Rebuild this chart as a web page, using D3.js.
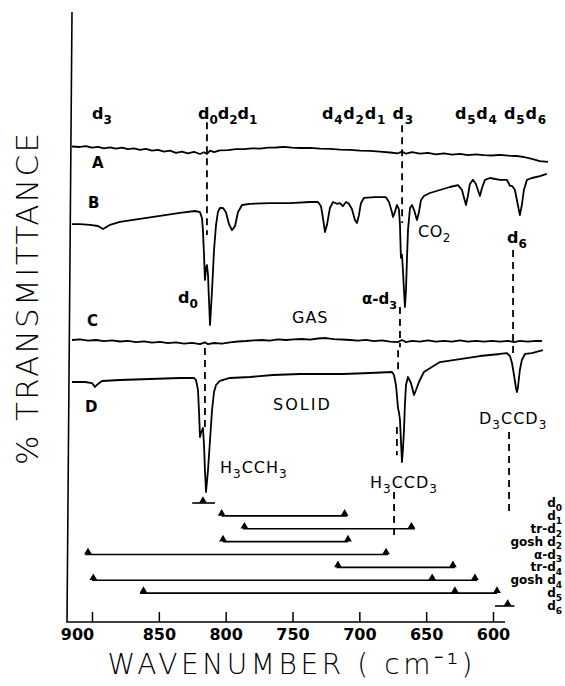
<!DOCTYPE html>
<html><head><meta charset="utf-8">
<script src="https://cdn.jsdelivr.net/npm/d3@7"></script>
<style>body{margin:0;background:#fff}</style>
</head><body>
<svg id="c" width="565" height="686"></svg>
<script>
// ---------------- DATA ----------------
const xTicks = [900, 850, 800, 750, 700, 650, 600];

// spectra: [wavenumber cm-1, transmittance (offset, arbitrary %T units)]
const specA = [[915,79.25],[909,79.17],[904.5,79.3],[900,79.05],[895.5,79.2],[891,78.95],[886.5,79.1],[882,78.9],[877.6,79.05],[873.1,78.8],[868.6,78.95],[864.1,78.7],[859.6,78.85],[855.1,78.55],[850.6,78.7],[846.1,78.4],[841.7,78.55],[837.2,78.2],[832.7,78.4],[828.2,78.1],[823.7,78.35],[819.2,78.0],[816.2,78.3],[814,78.0],[811.7,78.55],[808.7,78.3],[804.3,78.6],[798.3,78.65],[792.3,78.8],[786.3,78.8],[780.3,78.95],[774.3,78.9],[768.4,79.05],[762.4,79.08],[756.4,79.2],[750.4,79.05],[744.4,79.0],[736.9,79.02],[729.5,78.9],[722,78.85],[714.5,78.72],[707,78.68],[699.5,78.55],[692,78.52],[684.6,78.4],[677.1,78.25],[671.1,78.12],[668.1,78.4],[665.1,78.05],[660.6,78.3],[654.7,78.05],[648.7,78.2],[642.7,77.95],[636.7,78.1],[630.7,77.9],[624.7,78.02],[618.8,77.8],[612.8,77.95],[606.8,77.8],[600.8,77.75],[594.8,77.85],[588.8,77.72],[582.8,77.67],[576.9,77.5],[570.9,77.17],[564.9,76.83],[558.9,76.67]];

const specB = [[915,66.3],[909,66.3],[901.5,66.2],[895.5,66.0],[891.8,65.5],[889.5,65.8],[886.5,66.2],[879.1,66.7],[864.1,67.2],[849.1,67.7],[834.2,68.2],[823,68.5],[819.2,68.3],[817.7,67.3],[817,65.3],[816.2,61.2],[815.5,57.0],[814.7,59.0],[814,59.5],[813.2,57.8],[812.5,53.7],[811.7,49.5],[810.2,55.3],[808.7,62.0],[807.2,66.2],[805.8,68.3],[804.3,69.0],[802,69.0],[799.8,68.3],[797.5,66.3],[795.3,65.3],[793,66.0],[790.8,68.3],[787.8,69.5],[781.8,69.7],[766.9,69.8],[751.9,69.8],[736.9,70.0],[730.9,70.0],[728.7,69.3],[727.2,67.3],[725.7,65.0],[724.2,66.2],[722,69.0],[719.7,70.0],[716.7,69.7],[714.5,69.8],[712.3,69.3],[710,70.0],[707.8,69.7],[705.5,68.8],[703.3,67.0],[701.8,66.5],[700.3,67.8],[698.8,69.8],[696.5,70.7],[688.3,70.8],[680.1,70.8],[677.8,70.0],[675.6,68.3],[674.8,67.5],[673.4,68.3],[671.9,69.5],[670.4,68.8],[669.6,66.2],[668.9,60.7],[668.1,61.2],[667.4,58.7],[666.6,55.3],[665.9,52.5],[665.1,55.3],[664.4,60.3],[663.6,65.3],[662.1,69.0],[660.6,69.5],[659.1,68.7],[656.9,67.0],[655.4,68.3],[653.9,70.3],[651.7,71.0],[647.2,71.5],[639.7,72.0],[632.2,72.5],[626.2,72.8],[623.2,72.0],[621.7,70.7],[620.2,69.5],[618.8,71.0],[617.3,73.0],[615,73.7],[612.8,73.0],[611.3,72.0],[609.8,71.0],[608.3,72.3],[606,73.7],[602.3,74.0],[594.8,73.7],[589.6,73.7],[587.3,72.7],[585.8,72.7],[583.6,72.0],[581.4,69.5],[579.9,67.8],[578.4,69.5],[576.9,72.0],[574.6,73.7],[570.9,74.0],[564.9,74.3],[559.7,74.7]];

const specC = [[915,47.0],[909,47.1],[903,46.9],[897,47.0],[891,46.8],[885,46.95],[879.1,46.75],[873.1,46.85],[867.1,46.65],[861.1,46.78],[855.1,46.55],[849.1,46.68],[843.2,46.48],[837.2,46.6],[831.2,46.4],[825.2,46.52],[819.2,46.3],[815.5,46.6],[813.2,46.3],[808.7,46.5],[802.8,46.4],[796.8,46.6],[790.8,46.75],[784.8,46.83],[778.8,46.95],[772.8,47.0],[766.9,46.9],[760.9,47.1],[754.9,47.0],[748.9,47.1],[742.9,47.17],[736.9,47.05],[730.9,47.25],[725,47.33],[719,47.15],[713,47.08],[707,47.0],[701,46.9],[695,47.02],[689.1,46.8],[683.1,46.95],[677.1,46.72],[671.1,46.65],[668.1,47.0],[665.1,46.65],[660.6,46.85],[654.7,46.72],[648.7,46.95],[642.7,46.72],[636.7,46.85],[630.7,46.72],[624.7,46.95],[618.8,46.72],[612.8,46.85],[606.8,46.72],[600.8,46.85],[594.8,46.72],[588.8,46.85],[584.3,46.65],[579.9,46.85],[573.9,46.72],[567.9,46.85],[563.4,46.83]];

const specD = [[915,40.0],[905.2,40.0],[900,39.83],[897.8,39.17],[895.5,39.67],[892.5,40.17],[879.1,40.33],[856.6,40.5],[834.2,40.67],[823.7,40.67],[822.2,40.33],[820.7,38.67],[820,35.33],[819.2,30.83],[818.5,31.5],[817,32.33],[816.2,29.5],[815.5,25.33],[814.7,21.67],[813.2,25.33],[811.7,30.33],[810.2,35.33],[808.7,38.33],[807.2,39.5],[804.3,40.17],[796.8,40.67],[781.8,40.83],[764.6,41.17],[744.4,41.33],[712.3,41.33],[692,41.5],[675.6,41.67],[674.1,41.17],[672.6,39.5],[671.9,37.83],[671.1,35.67],[670.4,35.0],[669.6,33.67],[668.9,30.33],[668.1,26.67],[667.4,28.67],[666.6,32.0],[665.9,36.17],[665.1,39.5],[663.6,40.83],[661.4,39.83],[659.1,37.83],[657.6,38.67],[655.4,40.0],[651.7,41.67],[639.7,43.33],[624.7,43.83],[609.8,44.33],[594.8,44.67],[589.6,44.83],[587.3,44.33],[585.8,43.17],[584.3,41.17],[582.8,39.0],[582.1,38.33],[581.4,39.0],[579.9,42.0],[578.4,43.67],[576.1,44.67],[570.9,44.83],[562.7,45.33]];

// correlation bars (wavenumbers)
const barLabels = ["d_0", "d_1", "tr-d_2", "gosh d_2", "α-d_3", "tr-d_4", "gosh d_4", "d_5", "d_6"];
const barFrom  = [825, 803, 787, 802, 905, 717, 900, 864, 598.5];
const barTo    = [808, 709, 658.5, 708.5, 678.5, 628.5, 612, 597, 584];
const barMarks = [[817], [803, 711], [786, 661], [802, 708.5], [903, 680], [716, 630], [899, 645.5, 613.5], [861.5, 628.5, 597], [589]];

// ---------------- DRAWING ----------------
const svg = d3.select('#c');
const FONT = "'DejaVu Sans', sans-serif";
const x = d3.scaleLinear().domain([900, 600]).range([92, 493]);
const y = d3.scaleLinear().domain([0, 100]).range([622, 22]);
const row = d3.scalePoint().domain(barLabels).range([503, 606]);

function rich(sel, str, fs, subScale = 0.75, shift = 0.32) {
  const parts = [];
  for (let i = 0; i < str.length; i++) {
    if (str[i] === '_') { parts.push({ t: str[i + 1], s: true }); i++; }
    else parts.push({ t: str[i], s: false });
  }
  const merged = [];
  parts.forEach(p => {
    const last = merged[merged.length - 1];
    if (last && last.s === p.s) last.t += p.t; else merged.push({ t: p.t, s: p.s });
  });
  let cur = 0;
  merged.forEach(p => {
    const target = p.s ? fs * shift : 0;
    sel.append('tspan').attr('dy', target - cur).attr('font-size', p.s ? fs * subScale : fs).text(p.t);
    cur = target;
  });
  return sel;
}
function label(str, px, py, fs, opts = {}) {
  const t = svg.append('text').attr('x', px).attr('y', py)
    .attr('font-family', FONT).attr('font-size', fs)
    .attr('font-weight', opts.weight || 'bold')
    .attr('text-anchor', opts.anchor || 'start')
    .attr('letter-spacing', opts.ls || 0)
    .attr('fill', '#000');
  rich(t, str, fs);
  return t;
}

// frame
svg.append('path').attr('d', `M72,12 L67,${y(0)} L${x(591)},${y(0)}`)
  .attr('fill', 'none').attr('stroke', '#000').attr('stroke-width', 1.6);

// x axis
const ax = svg.append('g').attr('transform', `translate(0,${y(0)})`)
  .call(d3.axisBottom(x).tickValues(xTicks).tickSize(-10).tickPadding(7));
ax.select('.domain').remove();
ax.selectAll('line').attr('stroke', '#000').attr('stroke-width', 1.5);
ax.selectAll('text').attr('font-family', FONT).attr('font-weight', 'bold')
  .attr('font-size', 16).attr('fill', '#000');
ax.selectAll('text').filter(d => d === 900).attr('dx', -15);

// spectra
const line = d3.line().x(d => x(d[0])).y(d => y(d[1]));
[specA, specB, specC, specD].forEach(s => {
  svg.append('path').datum(s).attr('d', line).attr('fill', 'none')
    .attr('stroke', '#000').attr('stroke-width', 1.8).attr('stroke-linejoin', 'round');
});

// dashed guide lines [wavenumber, v1, v2]
const guides = [[814, 83.3, 64.5], [815.5, 45.67, 32.0], [668, 82.8, 66.5], [669.6, 52.5, 45.8],
  [671, 45.3, 41.7], [671.9, 32.5, 27.8], [674, 21.67, 13.67], [585, 62, 44.2], [588, 31.67, 17.83]];
guides.forEach(g => {
  svg.append('line').attr('x1', x(g[0])).attr('x2', x(g[0])).attr('y1', y(g[1])).attr('y2', y(g[2]))
    .attr('stroke', '#000').attr('stroke-width', 1.8).attr('stroke-dasharray', '7,5');
});

// correlation bars
const tri = d3.symbol().type(d3.symbolTriangle).size(26);
barLabels.forEach((lab, i) => {
  const ry = row(lab);
  svg.append('line').attr('x1', x(barFrom[i])).attr('x2', x(barTo[i])).attr('y1', ry).attr('y2', ry)
    .attr('stroke', '#000').attr('stroke-width', 1.6);
  barMarks[i].forEach(m => {
    svg.append('path').attr('d', tri).attr('transform', `translate(${x(m)},${ry - 2.4})`).attr('fill', '#000');
  });
  label(lab, 562, ry + 4, 12, { anchor: 'end' });
});

// top assignment labels
label("d_3", x(892.5), 119, 16, { anchor: 'middle' });
label("d_0d_2d_1", x(820.7), 119, 16);
label("d_4d_2d_1 d_3", x(728), 119, 16, { ls: 0.8 });
label("d_5d_4 d_5d_6", x(628.5), 119, 16, { ls: 0.8 });

// trace letters
label("A", 92, 168, 15);
label("B", 88, 208, 15);
label("C", 87, 326, 15);
label("D", 85, 412, 15);

// band annotations
label("d_0", 178, 303, 16);
label("α-d_3", 362, 304, 15);
label("CO_2", 418, 237, 16, { weight: 'normal', ls: 0.5 });
label("d_6", 507, 243, 16);
label("GAS", 292, 323, 16, { weight: 'normal', ls: 1 });
label("SOLID", 273, 410, 16, { weight: 'normal', ls: 2 });
label("D_3CCD_3", 479, 424, 16, { weight: 'normal', ls: 1 });
label("H_3CCH_3", 220, 473, 16, { weight: 'normal', ls: 1 });
label("H_3CCD_3", 370, 488, 16, { weight: 'normal', ls: 1 });

// axis titles
svg.append('text').attr('transform', 'translate(38,299) rotate(-90)')
  .attr('text-anchor', 'middle').attr('font-family', FONT).attr('font-weight', 200)
  .attr('font-size', 31).attr('textLength', 332).attr('lengthAdjust', 'spacing')
  .attr('fill', '#000').text('% TRANSMITTANCE');
svg.append('text').attr('x', 290).attr('y', 674)
  .attr('text-anchor', 'middle').attr('font-family', FONT).attr('font-weight', 200)
  .attr('font-size', 28).attr('textLength', 365).attr('lengthAdjust', 'spacing')
  .attr('fill', '#000').text('WAVENUMBER ( cm⁻¹)');
</script>
</body></html>
